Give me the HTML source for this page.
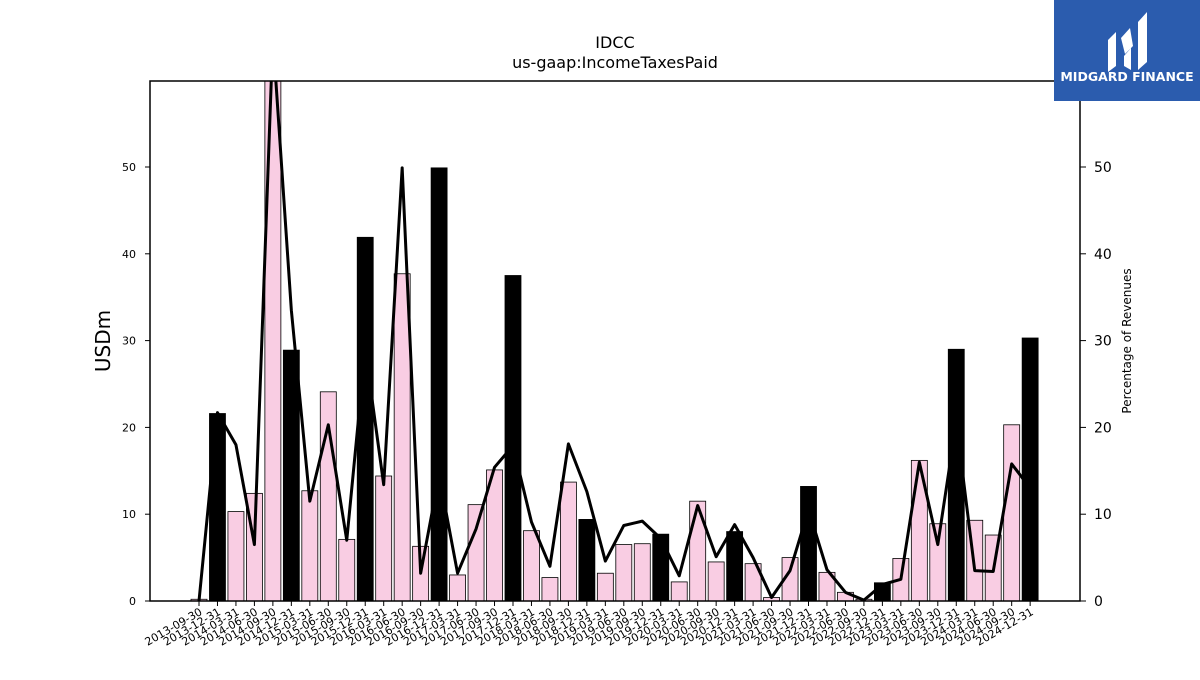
<!DOCTYPE html>
<html><head><meta charset="utf-8"><style>
body{margin:0;background:#fff;font-family:"Liberation Sans","DejaVu Sans",sans-serif}
svg text{font-family:"DejaVu Sans","Liberation Sans",sans-serif}
</style></head><body>
<svg id="c" width="1200" height="675" viewBox="0 0 1200 675" xmlns="http://www.w3.org/2000/svg">
<defs><clipPath id="pc"><rect x="150" y="81" width="930" height="520"/></clipPath></defs>
<text x="615" y="48" text-anchor="middle" font-size="16">IDCC</text>
<text x="615" y="68" text-anchor="middle" font-size="16">us-gaap:IncomeTaxesPaid</text>
<g id="bars" clip-path="url(#pc)"></g>
<g id="line" clip-path="url(#pc)"></g>
<rect x="150" y="81" width="930" height="520" fill="none" stroke="#000" stroke-width="1.5"/>
<g id="axes"></g>
<text transform="translate(110,341) rotate(-90)" text-anchor="middle" font-size="20">USDm</text>
<text transform="translate(1131,341) rotate(-90)" text-anchor="middle" font-size="12">Percentage of Revenues</text>
<g>
<rect x="1054" y="0" width="146" height="101" fill="#2b5cae"/>
<path d="M1108 40 L1116 32 L1116 66 L1108 72 Z M1121 38 L1130 28 L1133 46 L1125 54 Z M1124 56 L1131 48 L1131 70 L1124 66 Z M1138 22 L1147 12 L1147 62 L1138 70 Z" fill="#fff"/>
<text x="1127" y="81" text-anchor="middle" font-size="12.5" font-weight="bold" fill="#fff" font-family="Liberation Sans">MIDGARD FINANCE</text>
</g>
</svg>
<script>
const categories=["2013-09-30","2013-12-31","2014-03-31","2014-06-30","2014-09-30","2014-12-31","2015-03-31","2015-06-30","2015-09-30","2015-12-31","2016-03-31","2016-06-30","2016-09-30","2016-12-31","2017-03-31","2017-06-30","2017-09-30","2017-12-31","2018-03-31","2018-06-30","2018-09-30","2018-12-31","2019-03-31","2019-06-30","2019-09-30","2019-12-31","2020-03-31","2020-06-30","2020-09-30","2020-12-31","2021-03-31","2021-06-30","2021-09-30","2021-12-31","2022-03-31","2022-06-30","2022-09-30","2022-12-31","2023-03-31","2023-06-30","2023-09-30","2023-12-31","2024-03-31","2024-06-30","2024-09-30","2024-12-31"];
const taxesPaid=[0.2,21.6,10.3,12.4,62,28.9,12.7,24.1,7.1,41.9,14.4,37.7,6.3,49.9,3.0,11.1,15.1,37.5,8.1,2.7,13.7,9.4,3.2,6.5,6.6,7.7,2.2,11.5,4.5,8.0,4.3,0.4,5.0,13.2,3.3,1.0,0.2,2.1,4.9,16.2,8.9,29.0,9.3,7.6,20.3,30.3];
const pctRevenue=[0,21.7,18,6.5,65,33.5,11.5,20.3,7,29,13.4,49.9,3.2,14.5,3.2,8.3,15.4,17.9,9.1,4.0,18.1,12.6,4.6,8.7,9.2,7.2,2.9,11,5.1,8.8,5,0.4,3.5,10.5,3.6,1.0,0.1,1.9,2.5,16,6.5,20.6,3.5,3.4,15.8,13];
const yTicks=[0,10,20,30,40,50];
const NS="http://www.w3.org/2000/svg";
const x=i=>199+i*18.47;
const y=v=>601-v*8.68;
function mk(t,a,p){const e=document.createElementNS(NS,t);for(const k in a)e.setAttribute(k,a[k]);p.appendChild(e);return e;}
const bars=document.getElementById('bars'),axes=document.getElementById('axes'),line=document.getElementById('line');
taxesPaid.forEach((v,i)=>{
 const annual=categories[i].endsWith('12-31');
 const r=mk('rect',{x:x(i)-8,y:y(v),width:16,height:601-y(v),fill:annual?'#000':'#f9cde3',stroke:'#000','stroke-width':0.8},bars);
 
 
});
const pl=mk('polyline',{points:pctRevenue.map((v,i)=>x(i)+','+y(v)).join(' '),fill:'none',stroke:'#000','stroke-width':3,'stroke-linejoin':'round'},line);


yTicks.forEach(t=>{
 mk('line',{x1:145,x2:150,y1:y(t),y2:y(t),stroke:'#000'},axes);
 const a=mk('text',{x:136,y:y(t)+4,'text-anchor':'end','font-size':11},axes);a.textContent=t;
 
 
 mk('line',{x1:1080,x2:1086,y1:y(t),y2:y(t),stroke:'#000'},axes);
 const b=mk('text',{x:1094,y:y(t)+5,'font-size':14},axes);b.textContent=t;
 
 
});
categories.forEach((c,i)=>{
 mk('line',{x1:x(i),x2:x(i),y1:601,y2:606,stroke:'#000'},axes);
 const t=mk('text',{transform:`translate(${x(i)+4},${614}) rotate(-30)`,'text-anchor':'end','font-size':11},axes);t.textContent=c;
 
 
});
</script>
</body></html>
